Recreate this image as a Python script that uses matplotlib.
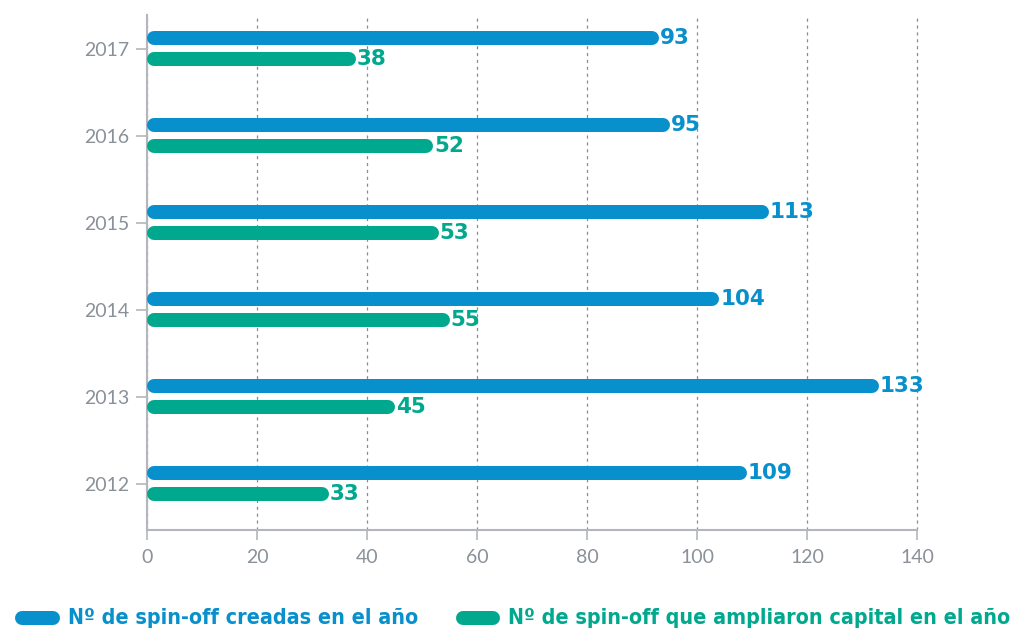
import matplotlib.pyplot as plt
from matplotlib.lines import Line2D
from matplotlib import font_manager

years = ["2012", "2013", "2014", "2015", "2016", "2017"]
creadas = [109, 133, 104, 113, 95, 93]
ampliaron = [33, 45, 55, 53, 52, 38]
legend_labels = ["Nº de spin-off creadas en el año",
                 "Nº de spin-off que ampliaron capital en el año"]

BLUE = "#0890CC"
GREEN = "#00A98E"
GRAY = "#8a9199"

installed = {f.name for f in font_manager.fontManager.ttflist}
tick_font = ["Lato", "DejaVu Sans"] if "Lato" in installed else ["DejaVu Sans"]

fig = plt.figure(figsize=(10.13, 6.29), dpi=100)
ax = fig.add_axes([147 / 1013, 1 - 530 / 629, 770 / 1013, 515 / 629])

ax.set_xlim(0, 140)
ax.set_ylim(-0.53, 5.385)

px = 770 / 140          # pixels per data unit
lw_px = 14              # bar thickness in pixels
r = lw_px / 2 / px      # cap radius in data units
off = 0.122

for i, (a, b) in enumerate(zip(creadas, ampliaron)):
    for val, y, c in ((a, i + off, BLUE), (b, i - off, GREEN)):
        ax.plot([r, val - r], [y, y], color=c, lw=lw_px * 72 / 100,
                solid_capstyle="round", zorder=3)
        ax.text(val + 0.2, y, str(val), color=c, fontsize=15.5,
                fontweight="heavy", family="DejaVu Sans", va="center",
                ha="left", zorder=4)

ax.set_yticks(range(len(years)))
ax.set_yticklabels(years)
ax.set_xticks(range(0, 141, 20))
ax.tick_params(axis="both", color="#b3b7bd", labelcolor=GRAY,
               labelsize=14)
ax.tick_params(axis="y", length=8, width=1.2, pad=5)
ax.tick_params(axis="x", length=7, width=1.2, pad=7)
for lab in ax.get_xticklabels() + ax.get_yticklabels():
    lab.set_family(tick_font)
    lab.set_fontweight("normal")

ax.xaxis.grid(True, color="#8c8c8c", linestyle=(0, (2.5, 3)), lw=0.9)
for gl in ax.get_xgridlines():
    gl.set_clip_on(False)
ax.set_axisbelow(True)
for s in ("top", "right"):
    ax.spines[s].set_visible(False)
for s in ("left", "bottom"):
    ax.spines[s].set_color("#b3b7bd")
    ax.spines[s].set_linewidth(1.5)

# legend along the bottom edge: rounded pills plus coloured labels
ly = 1 - 618 / 629
for x0, x1, label, c in ((22, 53, legend_labels[0], BLUE),
                         (463, 493, legend_labels[1], GREEN)):
    fig.add_artist(Line2D([x0 / 1013, x1 / 1013], [ly, ly], color=c,
                          lw=14 * 72 / 100, solid_capstyle="round",
                          transform=fig.transFigure))
    fig.text((x1 + 15) / 1013, ly, label, color=c, fontsize=15.4,
             fontweight="bold", family="DejaVu Sans", fontstretch="condensed",
             va="center", ha="left")

fig.savefig("out.png", dpi=100)
